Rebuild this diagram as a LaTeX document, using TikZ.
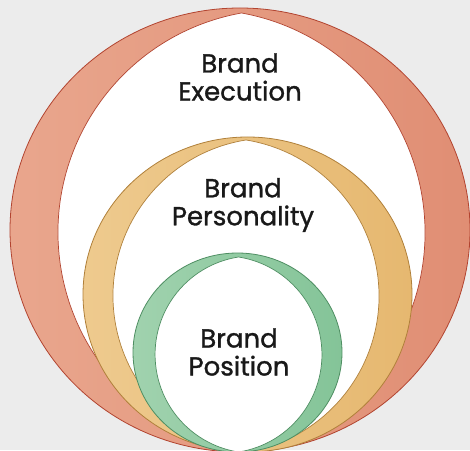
\documentclass[tikz,border=0pt]{standalone}
\usepackage{fontspec}
\setmainfont{Poppins}
\newfontfamily\labelfont{Poppins}[FakeBold=1.2]
\usepackage{tikz}
\usetikzlibrary{positioning}

\definecolor{bgGray}{RGB}{236,236,236}
\definecolor{execLight}{RGB}{233,166,141}
\definecolor{execDark}{RGB}{224,142,116}
\definecolor{execLine}{RGB}{178,68,48}
\definecolor{persLight}{RGB}{238,202,142}
\definecolor{persDark}{RGB}{230,184,112}
\definecolor{persLine}{RGB}{176,128,58}
\definecolor{posLight}{RGB}{160,210,174}
\definecolor{posDark}{RGB}{132,196,152}
\definecolor{posLine}{RGB}{78,142,98}

\begin{document}
\begin{tikzpicture}[x=1pt, y=1pt]
    % Define styles
    \tikzset{
        ring/.style={line width=0.8pt},
        hole/.style={fill=white, line width=0.7pt},
        label/.style={align=center, text=black!90, font=\labelfont\fontsize{26}{28}\selectfont}
    }

    % Background
    \useasboundingbox (0,0) rectangle (470,450);
    \fill[bgGray] (0,0) rectangle (470,450);

    % Outer ring: execution
    \shade[ring, draw=execLine, left color=execLight, right color=execDark]
        (240,220) ellipse[x radius=230pt, y radius=222pt];
    \filldraw[hole, draw=execLine] (241.5,437)
        arc[start angle=100.2, end angle=259.8, radius=223pt]
        arc[start angle=-79.8, end angle=79.8, radius=223pt] -- cycle;

    % Middle ring: personality
    \shade[ring, draw=persLine, left color=persLight, right color=persDark]
        (247.5,155.5) ellipse[x radius=164.5pt, y radius=157.5pt];
    \filldraw[hole, draw=persLine] (246,310)
        arc[start angle=99.1, end angle=260.9, radius=158pt]
        arc[start angle=-80.9, end angle=80.9, radius=158pt] -- cycle;

    % Inner ring: position
    \shade[ring, draw=posLine, left color=posLight, right color=posDark]
        (237.5,97.5) ellipse[x radius=104.5pt, y radius=99.5pt];
    \filldraw[hole, draw=posLine] (238.5,193)
        arc[start angle=98.9, end angle=261.1, radius=98.7pt]
        arc[start angle=-81.1, end angle=81.1, radius=98.7pt] -- cycle;

    % Labels
    \node[label] (execution) at (240,373) {Brand\\Execution};
    \node[label] (personality) at (243,245) {Brand\\Personality};
    \node[label] (position) at (239,98) {Brand\\Position};
\end{tikzpicture}
\end{document}
